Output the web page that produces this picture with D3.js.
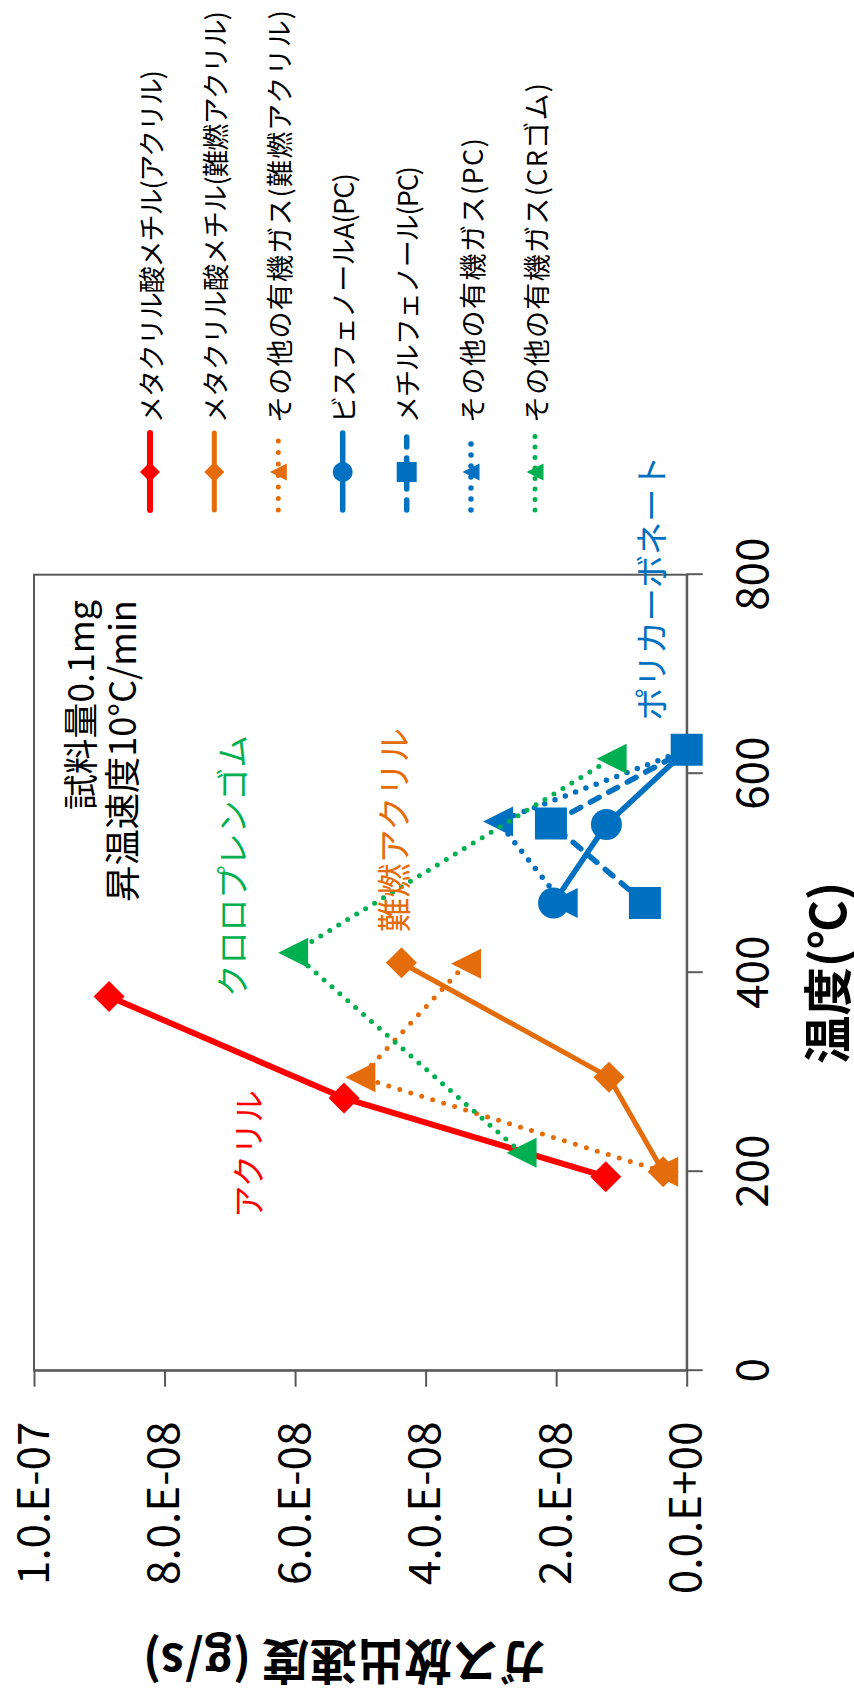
<!DOCTYPE html>
<html>
<head>
<meta charset="utf-8">
<script src="https://cdn.jsdelivr.net/npm/d3@7"></script>
<style>
  html, body { margin: 0; padding: 0; background: #ffffff; }
  svg { display: block; }
  text { font-family: "Noto Sans CJK JP", "Noto Sans", sans-serif; }
</style>
</head>
<body>
<svg id="chart" width="854" height="1695"></svg>
<script>
// ---------- data ----------
const tempTicks = [0, 200, 400, 600, 800];
const rateTicks = [0, 2e-8, 4e-8, 6e-8, 8e-8, 1e-7];
const rateTickLabels = ["0.0.E+00", "2.0.E-08", "4.0.E-08", "6.0.E-08", "8.0.E-08", "1.0.E-07"];

const seriesNames = [
  "メタクリル酸メチル(アクリル)",
  "メタクリル酸メチル(難燃アクリル)",
  "その他の有機ガス(難燃アクリル)",
  "ビスフェノールA(PC)",
  "メチルフェノール(PC)",
  "その他の有機ガス(PC)",
  "その他の有機ガス(CRゴム)"
];

const tempMMA = [195, 274, 376];
const rateMMA = [1.24e-8, 5.25e-8, 8.85e-8];

const tempMMAFR = [200, 295, 410];
const rateMMAFR = [0.36e-8, 1.19e-8, 4.37e-8];

const tempOtherFR = [200, 295, 409];
const rateOtherFR = [0.36e-8, 5.00e-8, 3.38e-8];

const tempBPA = [470, 549, 624];
const rateBPA = [2.04e-8, 1.23e-8, 0.0];

const tempMP = [470, 550, 624];
const rateMP = [0.64e-8, 2.08e-8, 0.0];

const tempOtherPC = [470, 552, 624];
const rateOtherPC = [1.90e-8, 2.89e-8, 0.0];

const tempCR = [219, 420, 615];
const rateCR = [2.53e-8, 6.03e-8, 1.15e-8];

const annotations = ["試料量0.1mg", "昇温速度10°C/min"];
const labelAcryl = "アクリル";
const labelFR = "難燃アクリル";
const labelCR = "クロロプレンゴム";
const labelPC = "ポリカーボネート";
const xTitle = "温度(℃)";
const yTitle = "ガス放出速度 (g/s)";

// ---------- styles ----------
const RED = "#FF0000", ORANGE = "#E46C0A", BLUE = "#0070C0", GREEN = "#00B050";

const styles = [
  {color: RED,    width: 6,   dash: null,     marker: "diamond"},
  {color: ORANGE, width: 5,   dash: null,     marker: "diamond"},
  {color: ORANGE, width: 5,   dash: "0 11.5", marker: "triangle"},
  {color: BLUE,   width: 5.5, dash: null,     marker: "circle"},
  {color: BLUE,   width: 5.5, dash: "10 11",  marker: "square"},
  {color: BLUE,   width: 5.5, dash: "0 11",   marker: "triangle"},
  {color: GREEN,  width: 5,   dash: "0 10.5", marker: "triangle"}
];

const seriesData = [
  [tempMMA, rateMMA],
  [tempMMAFR, rateMMAFR],
  [tempOtherFR, rateOtherFR],
  [tempBPA, rateBPA],
  [tempMP, rateMP],
  [tempOtherPC, rateOtherPC],
  [tempCR, rateCR]
];
// drawing order (PC triangles sit behind the circles)
const drawOrder = [0, 1, 2, 5, 3, 4, 6];

// ---------- layout (chart built unrotated, then turned -90°) ----------
const W = 1695, H = 854;
const svg = d3.select("#chart");
const g = svg.append("g").attr("transform", `translate(0,${W}) rotate(-90)`);

const x = d3.scaleLinear().domain([0, 800]).range([324.3, 1120.3]);
const y = d3.scaleLinear().domain([0, 1e-7]).range([686.7, 34]);

const AXIS = "#595959";
const NUMFONT = "'Liberation Sans', Arial, sans-serif";

function fitText(sel, target) {
  const len = sel.node().getComputedTextLength();
  const fs = parseFloat(sel.attr("font-size"));
  if (len > 0) sel.attr("font-size", (fs * target / len).toFixed(2));
  return sel;
}

// plot frame
g.append("rect")
  .attr("x", x(0)).attr("y", y(1e-7))
  .attr("width", x(800) - x(0)).attr("height", y(0) - y(1e-7))
  .attr("fill", "none").attr("stroke", AXIS).attr("stroke-width", 2);

// x axis (temperature)
const xAxis = g.append("g")
  .attr("transform", `translate(0,${y(0)})`)
  .call(d3.axisBottom(x).tickValues(tempTicks).tickSize(16).tickSizeOuter(0).tickPadding(34).tickFormat(d3.format("d")));
xAxis.select(".domain").attr("stroke", AXIS).attr("stroke-width", 2);
xAxis.selectAll(".tick line").attr("stroke", AXIS).attr("stroke-width", 2);
xAxis.selectAll(".tick text").attr("font-size", 44).attr("fill", "#000")
  .attr("font-family", NUMFONT);

// y axis (rate)
const yAxis = g.append("g")
  .attr("transform", `translate(${x(0)},0)`)
  .call(d3.axisLeft(y).tickValues(rateTicks).tickSize(16).tickSizeOuter(0).tickPadding(35)
    .tickFormat((d, i) => rateTickLabels[i]));
yAxis.select(".domain").attr("stroke", AXIS).attr("stroke-width", 2);
yAxis.selectAll(".tick line").attr("stroke", AXIS).attr("stroke-width", 2);
yAxis.selectAll(".tick text").attr("font-size", 44).attr("fill", "#000")
  .attr("font-family", NUMFONT);

// ---------- markers ----------
function markerPath(type, s) {
  const r = s / 2;
  if (type === "diamond") return `M0,${-r}L${r},0L0,${r}L${-r},0Z`;
  if (type === "square") return `M${-r},${-r}H${r}V${r}H${-r}Z`;
  if (type === "triangle") return `M0,${-r}L${r},${r}L${-r},${r}Z`;
  return null;
}
function drawMarker(sel, type, color, cx, cy, s) {
  if (type === "circle") {
    sel.append("circle").attr("cx", cx).attr("cy", cy).attr("r", s / 2).attr("fill", color);
  } else {
    sel.append("path").attr("d", markerPath(type, s))
      .attr("transform", `translate(${cx},${cy})`).attr("fill", color);
  }
}
const markerSize = {diamond: 31, circle: 31, square: 32, triangle: 30};

// ---------- series ----------
const line = d3.line().x(d => x(d[0])).y(d => y(d[1]));
drawOrder.forEach(i => {
  const st = styles[i];
  const pts = seriesData[i][0].map((t, k) => [t, seriesData[i][1][k]]);
  const sg = g.append("g");
  sg.append("path").datum(pts)
    .attr("d", line)
    .attr("fill", "none")
    .attr("stroke", st.color)
    .attr("stroke-width", st.width)
    .attr("stroke-linecap", "round")
    .attr("stroke-linejoin", "round")
    .attr("stroke-dasharray", st.dash);
  pts.forEach(p => drawMarker(sg, st.marker, st.color, x(p[0]), y(p[1]), markerSize[st.marker]));
});

// ---------- legend ----------
const legendRows = [150, 214.3, 278.3, 342.7, 406.7, 471, 535];
const legendTextLen = [353, 412, 413, 250, 257, 285, 340];
const legX0 = 1185, legX1 = 1262, legMarkX = 1223, legTextX = 1272;
const legMarkSize = {diamond: 20, circle: 20, square: 20, triangle: 17};
seriesNames.forEach((name, i) => {
  const st = styles[i];
  const lg = g.append("g");
  const cy = legendRows[i];
  lg.append("line").attr("x1", legX0).attr("x2", legX1).attr("y1", cy).attr("y2", cy)
    .attr("stroke", st.color).attr("stroke-width", st.width)
    .attr("stroke-linecap", "round").attr("stroke-dasharray", st.dash);
  drawMarker(lg, st.marker, st.color, legMarkX, cy, legMarkSize[st.marker]);
  lg.append("text").attr("x", legTextX).attr("y", cy)
    .attr("dominant-baseline", "central")
    .attr("font-size", 27).attr("fill", "#000")
    .attr("textLength", legendTextLen[i]).attr("lengthAdjust", "spacing")
    .text(name);
});

// ---------- annotations ----------
const a1 = g.append("text").attr("x", 1095).attr("y", 78).attr("text-anchor", "end")
  .attr("dominant-baseline", "central").attr("font-size", 37).attr("fill", "#000")
  .text(annotations[0]);
fitText(a1, 210);
const a2 = g.append("text").attr("x", 1095).attr("y", 120).attr("text-anchor", "end")
  .attr("dominant-baseline", "central").attr("font-size", 37).attr("fill", "#000")
  .text(annotations[1]);
fitText(a2, 302);

function label(txt, cx, cy, size, color, len) {
  const t = g.append("text").attr("x", cx).attr("y", cy).attr("text-anchor", "middle")
    .attr("dominant-baseline", "central").attr("font-size", size).attr("fill", color)
    .text(txt);
  fitText(t, len);
}
label(labelCR, 829, 230, 33, GREEN, 262);
label(labelFR, 865, 392, 34, ORANGE, 204);
label(labelAcryl, 541, 246, 32, RED, 128);
label(labelPC, 1107, 650, 33, BLUE, 265);

// ---------- axis titles ----------
const xt = g.append("text").attr("x", 722).attr("y", 825).attr("text-anchor", "middle")
  .attr("dominant-baseline", "central").attr("font-size", 50).attr("font-weight", "bold")
  .attr("fill", "#000").text(xTitle);
fitText(xt, 182);
const yt = g.append("text").attr("transform", "translate(31,345) rotate(-90)")
  .attr("text-anchor", "middle").attr("dominant-baseline", "central")
  .attr("font-size", 50).attr("font-weight", "bold").attr("fill", "#000").text(yTitle);
fitText(yt, 404);
</script>
</body>
</html>
